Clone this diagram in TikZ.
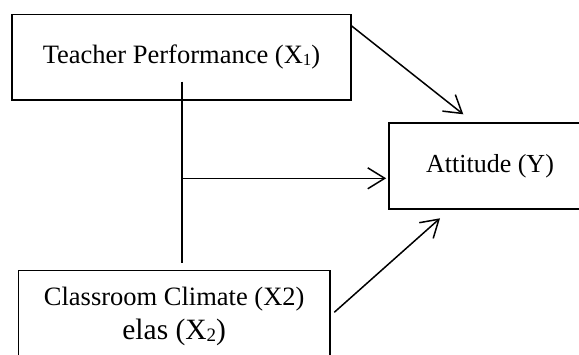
\documentclass[tikz,border=0pt]{standalone}
\usepackage{fontspec}
\setmainfont{Liberation Serif}
\usetikzlibrary{arrows.meta}
\newcommand{\mysub}[1]{\raisebox{-0.12em}{\fontsize{0.62\dimexpr\csname f@size\endcsname pt\relax}{0pt}\selectfont #1}}
\tikzset{
  box/.style={draw, line width=1.7pt, inner sep=0pt, align=center},
  conn/.style={line width=1.5pt},
  arr/.style={conn, -{Straight Barb[length=17pt,width=21pt,line width=1.5pt]}},
}
\begin{document}
\begin{tikzpicture}[x=1pt,y=-1pt]
\useasboundingbox (0,0) rectangle (579,354);
\node[box, minimum width=338.4pt, minimum height=85.7pt, font=\fontsize{26.5}{30}\selectfont]
  (top) at (181.5,57.2) {Teacher Performance (X{\fontsize{17}{17}\selectfont\raisebox{-0.1em}{1}})};
\node[box, minimum width=202pt, minimum height=86.3pt, font=\fontsize{26}{30}\selectfont]
  (att) at (490,165.9) {Attitude (Y)};
\node[box, minimum width=311.7pt, minimum height=91.5pt, font=\fontsize{26.5}{35}\selectfont]
  (bot) at (174.2,316.2) {Classroom Climate (X2)\\[-1pt]{\fontsize{29.5}{35}\selectfont elas (X{\fontsize{19}{19}\selectfont\raisebox{-0.1em}{2}})}};
\coordinate (vtop) at (182,81.7);
\coordinate (vbot) at (182,263.3);
\coordinate (junc) at (182,178.3);
\coordinate (a1s) at (351.7,26);
\coordinate (a1e) at (463.3,114.3);
\coordinate (a3s) at (334.3,312.3);
\coordinate (a3e) at (440,218.3);
\draw[conn] (vtop) -- (vbot);
\draw[arr, shorten >=2pt] (junc) -- (att.west |- junc);
\draw[arr] (a1s) -- (a1e);
\draw[arr] (a3s) -- (a3e);
\end{tikzpicture}
\end{document}
